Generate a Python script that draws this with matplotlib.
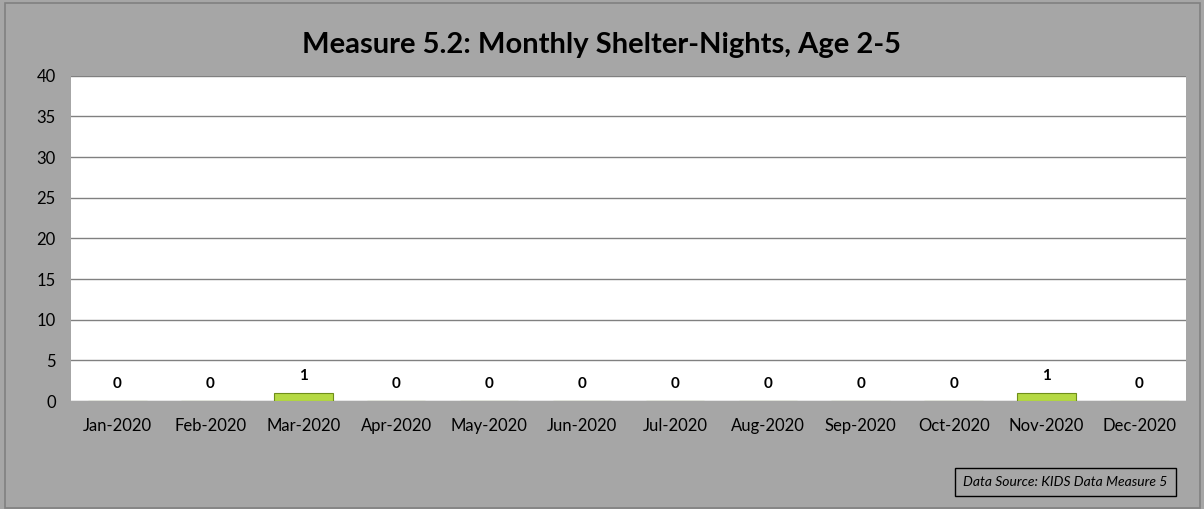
import matplotlib
matplotlib.use("Agg")
import matplotlib.pyplot as plt
from matplotlib.patches import Rectangle

plt.rcParams['font.family'] = ['Lato', 'DejaVu Sans']

months = ["Jan-2020", "Feb-2020", "Mar-2020", "Apr-2020", "May-2020", "Jun-2020",
          "Jul-2020", "Aug-2020", "Sep-2020", "Oct-2020", "Nov-2020", "Dec-2020"]
nights = [0, 0, 1, 0, 0, 0, 0, 0, 0, 0, 1, 0]
y_ticks = [0, 5, 10, 15, 20, 25, 30, 35, 40]

bg = "#a6a6a6"
fig = plt.figure(figsize=(12.04, 5.09), dpi=100, facecolor=bg)
# outer chart border
fig.patches.append(Rectangle((0.004, 0.002), 0.993, 0.992, transform=fig.transFigure,
                             fill=False, edgecolor="#808080", linewidth=1.2))

ax = fig.add_axes([0.059, 0.212, 0.926, 0.639])
ax.set_facecolor("white")

x = range(len(months))
bars = ax.bar(x, nights, width=0.63, color="#b5d944", edgecolor="#6f8f1a", linewidth=0.8, zorder=3)

for xi, v in zip(x, nights):
    ax.annotate(str(v), (xi, v), xytext=(0, 7), textcoords="offset points",
                ha="center", va="bottom", fontsize=11, fontweight="bold")

ax.set_ylim(0, 40)
ax.set_xlim(-0.5, len(months) - 0.5)
ax.set_yticks(y_ticks)
ax.set_xticks(list(x))
ax.set_xticklabels(months)
ax.yaxis.grid(True, color="#808080", linewidth=1)
ax.set_axisbelow(True)
ax.tick_params(length=0, labelsize=12)
ax.tick_params(axis="x", pad=12)
ax.tick_params(axis="y", pad=11)
for s in ax.spines.values():
    s.set_visible(False)

fig.text(0.5, 0.912, "Measure 5.2: Monthly Shelter-Nights, Age 2-5", ha="center", va="center",
         fontsize=21, fontweight="bold")

fig.text(0.885, 0.053, "Data Source: KIDS Data Measure 5", ha="center", va="center",
         fontsize=10, style="italic",
         bbox=dict(boxstyle="square,pad=0.6", facecolor=bg, edgecolor="black", linewidth=1))

fig.savefig("out.png", dpi=100, facecolor=bg)
